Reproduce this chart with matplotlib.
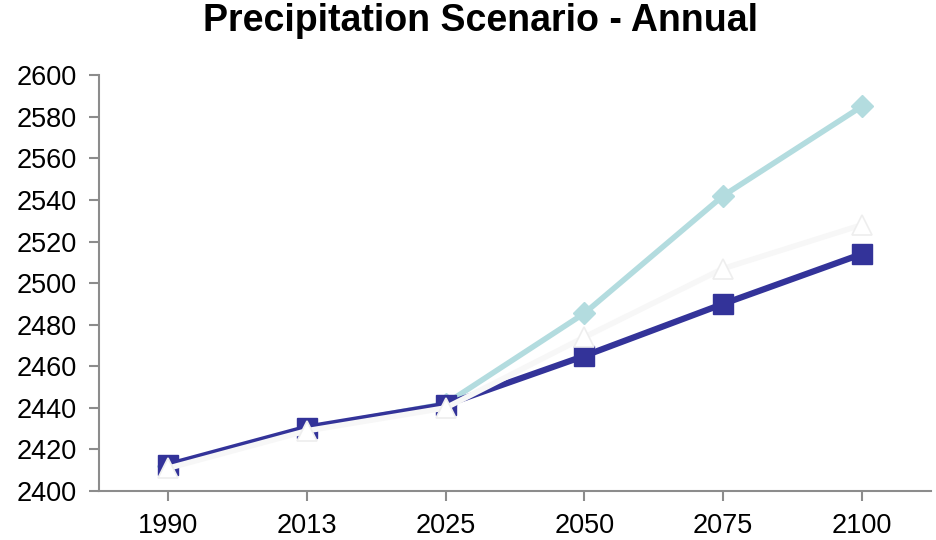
import matplotlib.pyplot as plt

plt.rcParams['font.family'] = ['Liberation Sans', 'DejaVu Sans']

years = ['1990', '2013', '2025', '2050', '2075', '2100']
high = [2412, 2430, 2442, 2485.5, 2542, 2585]
mid = [2411, 2429, 2440, 2474, 2507, 2528]
low = [2412.5, 2430.5, 2441.5, 2465, 2490, 2514]

x = range(len(years))

fig = plt.figure(figsize=(9.37, 5.4), dpi=100)
ax = fig.add_axes([0.1057, 0.0907, 0.888, 0.770])

ax.plot(x, high, color='#b3dcdf', lw=4, marker='D', ms=11,
        mfc='#b3dcdf', mec='#b3dcdf', zorder=2)
ax.plot(x, low, color='#333399', lw=4.5, marker='s', ms=14,
        mfc='#333399', mec='#333399', zorder=3)
ax.plot(x, mid, color='#f7f7f7', lw=4, marker='^', ms=15,
        mfc='white', mec='#eeeeee', mew=1.2, zorder=4)

ax.set_xlim(-0.5, len(years) - 0.5)
ax.set_ylim(2400, 2600)
ax.set_yticks(range(2400, 2601, 20))
ax.set_xticks(list(x))
ax.set_xticklabels(years)

for side in ['top', 'right']:
    ax.spines[side].set_visible(False)
for side in ['left', 'bottom']:
    ax.spines[side].set_color('#8c8c8c')
    ax.spines[side].set_linewidth(1.5)
ax.tick_params(colors='#8c8c8c', width=1.5, length=7, labelcolor='black',
               labelsize=19.5)
ax.tick_params(axis='y', pad=9)
ax.tick_params(axis='x', pad=9)

fig.suptitle('Precipitation Scenario - Annual', fontsize=27, fontweight='bold',
             x=0.513, y=0.995)

fig.savefig('out.png', dpi=100)
